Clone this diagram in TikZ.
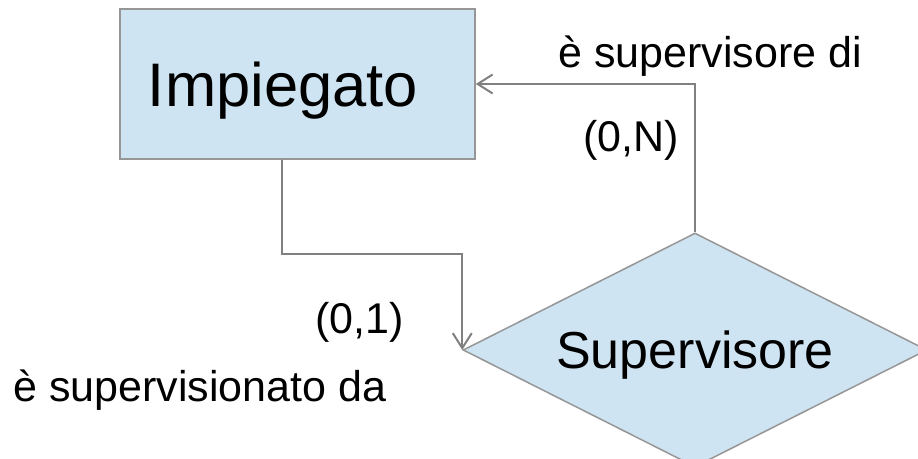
\documentclass[tikz,border=0pt]{standalone}
\usepackage{fontspec}
\setmainfont{Liberation Sans}
\usetikzlibrary{arrows.meta, shapes.geometric}

\definecolor{erfill}{RGB}{207,228,242}
\definecolor{erline}{RGB}{150,150,150}
\definecolor{linkgray}{RGB}{128,128,128}

\begin{document}
\begin{tikzpicture}[
  x=1pt,
  y=1pt,
  entity/.style={draw=erline, line width=1.5pt, fill=erfill, inner sep=0pt,
    minimum width=355pt, minimum height=150pt, text depth=0pt,
    font=\fontsize{61.5}{70}\selectfont},
  relation/.style={diamond, aspect=2, draw=erline, line width=1.5pt, fill=erfill,
    inner sep=0pt, minimum width=464pt, minimum height=234pt, text depth=0pt,
    font=\fontsize{52}{60}\selectfont},
  link/.style={draw=linkgray, line width=2pt,
    -{Straight Barb[length=15pt, width=19pt, line width=2pt]}},
  lab/.style={anchor=base west, inner sep=0pt, font=\fontsize{43}{50}\selectfont}
]
  \useasboundingbox (0,0) rectangle (918,-458);

  % Entity and its self-relationship.
  \node[entity] at (297.5,-84)     (impiegato)   {Impiegato\hspace*{29pt}};
  \node[relation] at (695,-350)    (supervisore) {Supervisore};

  % Two roles of the ring relationship.
  \draw[link] ([xshift=-15.5pt]impiegato.south) -- ++(0,-94) -| (supervisore.west);
  \draw[link] (supervisore.north) |- (impiegato.east);

  % Role names and cardinalities.
  \node[lab] at (558,-67)   (supdi)   {è supervisore di};
  \node[lab] at (583,-151)  (cardN)   {(0,N)};
  \node[lab] at (315,-333)  (card1)   {(0,1)};
  \node[lab] at (13,-401)   (supda)   {è supervisionato da};

\end{tikzpicture}
\end{document}
